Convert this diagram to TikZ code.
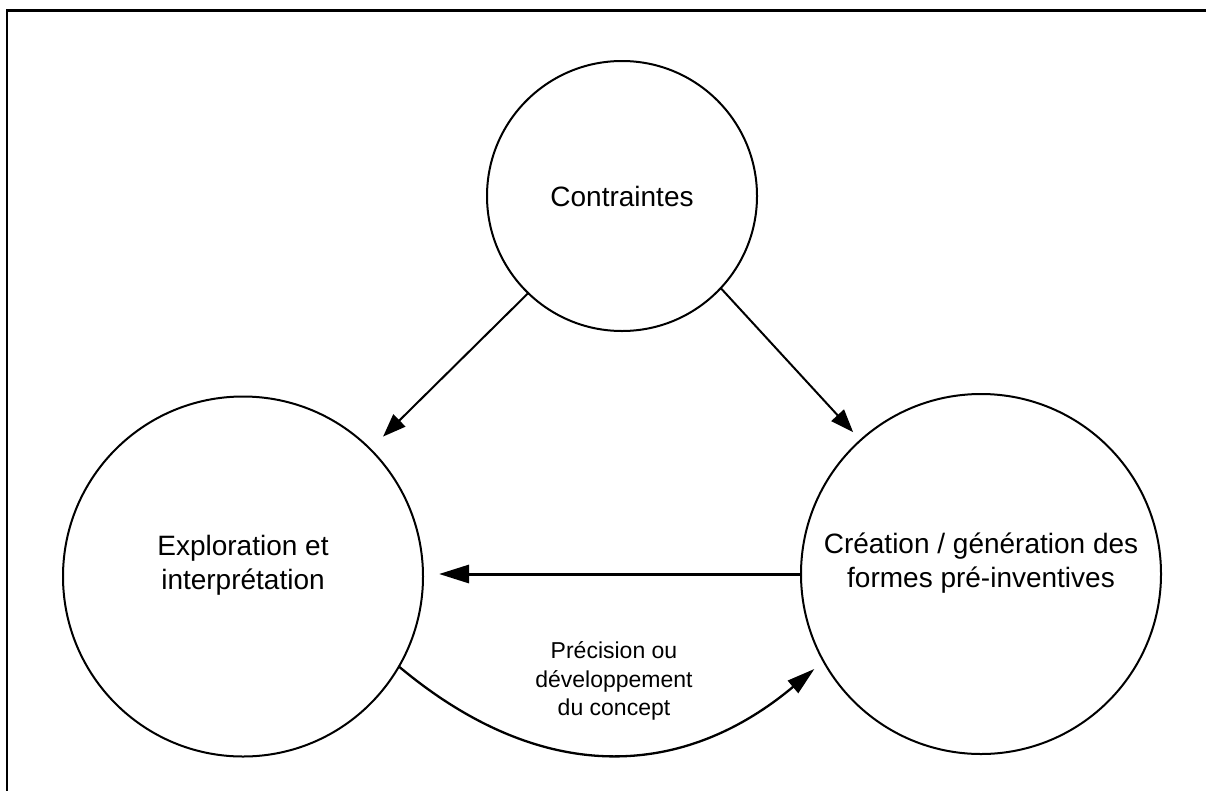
\documentclass[tikz,border=0pt]{standalone}
\usepackage{fontspec}
\setmainfont{Liberation Sans}
\usetikzlibrary{arrows.meta}
\begin{document}
\begin{tikzpicture}[x=1pt,y=-1pt,
  bubble/.style={circle, draw, line width=2pt, inner sep=0pt, outer sep=0pt,
    align=center, font=\fontsize{28}{34}\selectfont},
  twoline/.style={text height=32pt},
  flow/.style={line width=2pt, -{Triangle[length=23pt,width=17pt]}},
  backflow/.style={line width=3pt, -{Triangle[length=30pt,width=18pt]}},
  loopflow/.style={line width=2.3pt, -{Triangle[length=28pt,width=16pt]}},
  note/.style={align=center, font=\fontsize{23}{28.5}\selectfont}]
% page area; the frame's right and bottom sides run off the page
\useasboundingbox (0,0) rectangle (1206,790);
\clip (0,0) rectangle (1206,790);
\draw[overlay, line width=2.5pt] (1240,10.5) -- (7,10.5) -- (7,830);

% the three stages
\node[bubble, minimum size=270pt] (ctr) at (622,196) {Contraintes};
\node[bubble, twoline, minimum size=360pt] (expl) at (243,576.5)
  {Exploration et\\interprétation};
\node[bubble, twoline, minimum size=360pt] (crea) at (981,574)
  {Création / génération des\\formes pré-inventives};

% constraints feed both stages
\draw[flow, shorten >=18pt] (ctr.226) -- (expl.45.7);
\draw[flow, shorten >=11pt] (ctr.-43.5) -- (crea.132);

% generation back to exploration
\draw[backflow, shorten >=16pt] (crea.west) -- (crea.west -| expl.east);

% refinement loop from exploration to generation
\draw[loopflow, shorten >=12pt] (expl.-30.6)
  .. controls +(142,119) and +(-142,119) .. (crea.209);
\node[note] (lbl) at (614,681) {Précision ou\\développement\\du concept};
\end{tikzpicture}
\end{document}
